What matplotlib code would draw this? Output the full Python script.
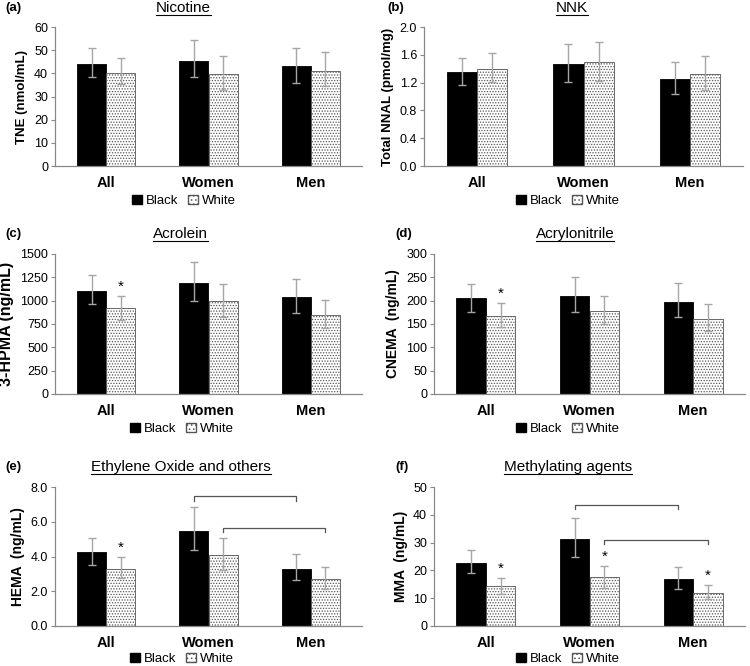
import matplotlib
matplotlib.use("Agg")
import matplotlib.pyplot as plt
from matplotlib.patches import Patch
from matplotlib.lines import Line2D
import numpy as np

plt.rcParams['font.family'] = ['Liberation Sans', 'DejaVu Sans']
plt.rcParams['hatch.linewidth'] = 0.6

categories = ["All", "Women", "Men"]
series_names = ["Black", "White"]

panel_letters = ["(a)", "(b)", "(c)", "(d)", "(e)", "(f)"]
panel_titles = ["Nicotine", "NNK", "Acrolein", "Acrylonitrile",
                "Ethylene Oxide and others", "Methylating agents"]
ylabels = ["TNE (nmol/mL)", "Total NNAL (pmol/mg)", "3-HPMA (ng/mL)",
           "CNEMA  (ng/mL)", "HEMA  (ng/mL)", "MMA  (ng/mL)"]

# means
black_vals = [[44.2, 45.5, 43.2], [1.35, 1.47, 1.25], [1106, 1185, 1038],
              [205, 210, 197], [4.26, 5.47, 3.30], [22.8, 31.2, 16.9]]
white_vals = [[40.3, 39.6, 41.0], [1.40, 1.49, 1.32], [917, 992, 845],
              [168, 177, 161], [3.30, 4.07, 2.71], [14.3, 17.5, 12.0]]
# error bar lower / upper limits
black_lo = [[38.3, 38.3, 35.8], [1.17, 1.21, 1.04], [963, 995, 866],
            [176, 175, 165], [3.49, 4.36, 2.63], [19.1, 24.8, 13.3]]
black_hi = [[51.0, 54.2, 51.0], [1.55, 1.75, 1.50], [1278, 1414, 1235],
            [235, 250, 237], [5.07, 6.83, 4.13], [27.5, 39.0, 21.1]]
white_lo = [[35.5, 33.0, 34.5], [1.21, 1.23, 1.10], [795, 827, 709],
            [143, 150, 135], [2.78, 3.20, 2.15], [11.6, 13.8, 9.6]]
white_hi = [[46.5, 47.3, 49.0], [1.63, 1.78, 1.58], [1049, 1178, 1002],
            [195, 211, 193], [3.97, 5.07, 3.40], [17.3, 21.7, 14.9]]

yticks = [[0, 10, 20, 30, 40, 50, 60],
          [0.0, 0.4, 0.8, 1.2, 1.6, 2.0],
          [0, 250, 500, 750, 1000, 1250, 1500],
          [0, 50, 100, 150, 200, 250, 300],
          [0.0, 2.0, 4.0, 6.0, 8.0],
          [0, 10, 20, 30, 40, 50]]
ytick_fmt = ["{:.0f}", "{:.1f}", "{:.0f}", "{:.0f}", "{:.1f}", "{:.0f}"]

# significance stars on White bars (panel index -> category indices)
stars_white = {2: [0], 3: [0], 4: [0], 5: [0, 1, 2]}
# brackets: panel -> list of (series, cat_from, cat_to, height, drop)
brackets = {4: [(0, 1, 2, 7.47, 0.29), (1, 1, 2, 5.66, 0.25)],
            5: [(0, 1, 2, 43.6, 1.6), (1, 1, 2, 31.1, 1.7)]}

W, H = 750, 666
fig = plt.figure(figsize=(W / 100, H / 100), dpi=100)

# axes boxes in pixels: left, right, top, bottom
boxes = [(55, 362, 27, 166), (424, 743, 27, 166),
         (55, 362, 254, 394), (434, 745, 254, 394),
         (55, 362, 487, 626), (434, 745, 487, 626)]
title_x = [183, 572, 180, 575, 181, 568]
title_y = [8, 8, 234, 234, 467, 467]
letter_x = [5, 387, 5, 395, 5, 395]
legend_x = [184, 568, 182, 568, 182, 568]
legend_y = [201, 201, 429, 429, 659, 659]
ylabel_size = [9.5, 9.5, 11.5, 10, 10, 10]

bw = 0.285
err_col = '#a6a6a6'
hatch_edge = '#555555'
hatch_pat = '......'
titles_txt = []

for i in range(6):
    l, r, t, b = boxes[i]
    ax = fig.add_axes([l / W, 1 - b / H, (r - l) / W, (b - t) / H])
    x = np.arange(len(categories))
    bv = np.array(black_vals[i]); wv = np.array(white_vals[i])
    ax.bar(x - bw / 2, bv, bw, color='black', edgecolor='black', linewidth=0.6, zorder=2)
    ax.bar(x + bw / 2, wv, bw, color='white', edgecolor=hatch_edge, hatch=hatch_pat,
           linewidth=0.6, zorder=2)
    berr = [bv - np.array(black_lo[i]), np.array(black_hi[i]) - bv]
    werr = [wv - np.array(white_lo[i]), np.array(white_hi[i]) - wv]
    ax.errorbar(x - bw / 2, bv, yerr=berr, fmt='none', ecolor=err_col, elinewidth=1,
                capsize=3, capthick=1, zorder=3)
    ax.errorbar(x + bw / 2, wv, yerr=werr, fmt='none', ecolor=err_col, elinewidth=1,
                capsize=3, capthick=1, zorder=3)
    ymax = yticks[i][-1]
    ax.set_ylim(0, ymax)
    ax.set_xlim(-0.5, 2.5)
    ax.set_yticks(yticks[i])
    ax.set_yticklabels([ytick_fmt[i].format(v) for v in yticks[i]], fontsize=9)
    ax.set_xticks(x)
    ax.set_xticklabels(categories, fontsize=10.5, fontweight='bold')
    ax.tick_params(axis='x', length=0, pad=7)
    ax.tick_params(axis='y', length=3, width=0.8, color='#888888', pad=2)
    for s in ['top', 'right']:
        ax.spines[s].set_visible(False)
    for s in ['left', 'bottom']:
        ax.spines[s].set_color('#888888')
        ax.spines[s].set_linewidth(0.9)
    ax.set_ylabel(ylabels[i], fontsize=ylabel_size[i], fontweight='bold', labelpad=4)

    for c in stars_white.get(i, []):
        ax.text(x[c] + bw / 2, white_hi[i][c] + ymax * 0.015, '*', ha='center',
                va='bottom', fontsize=11)
    for (s, c0, c1, hgt, drop) in brackets.get(i, []):
        off = -bw / 2 if s == 0 else bw / 2
        xa, xb = x[c0] + off, x[c1] + off
        ax.plot([xa, xa, xb, xb], [hgt - drop, hgt, hgt, hgt - drop], color='#555555',
                lw=0.9, zorder=4, clip_on=False)

    fig.text(letter_x[i] / W, 1 - title_y[i] / H, panel_letters[i], fontsize=9.5,
             fontweight='bold', ha='left', va='center')
    tt = fig.text(title_x[i] / W, 1 - title_y[i] / H, panel_titles[i], fontsize=11,
                  ha='center', va='center')
    titles_txt.append(tt)

    handles = [Patch(facecolor='black', edgecolor='black'),
               Patch(facecolor='white', edgecolor=hatch_edge, hatch='....')]
    ax.legend(handles, series_names, loc='center', ncol=2, frameon=False,
              bbox_to_anchor=(legend_x[i] / W, 1 - legend_y[i] / H),
              bbox_transform=fig.transFigure, fontsize=9.5, handlelength=0.75,
              handleheight=0.75, handletextpad=0.25, columnspacing=0.8,
              borderpad=0, borderaxespad=0)

# underline titles
fig.canvas.draw()
renderer = fig.canvas.get_renderer()
for tt in titles_txt:
    bb = tt.get_window_extent(renderer)
    yline = (bb.y0 + 0.5) / (H)
    fig.add_artist(Line2D([bb.x0 / W, bb.x1 / W], [yline, yline],
                          transform=fig.transFigure, color='black', lw=0.8))

fig.savefig("out.png", dpi=100)
